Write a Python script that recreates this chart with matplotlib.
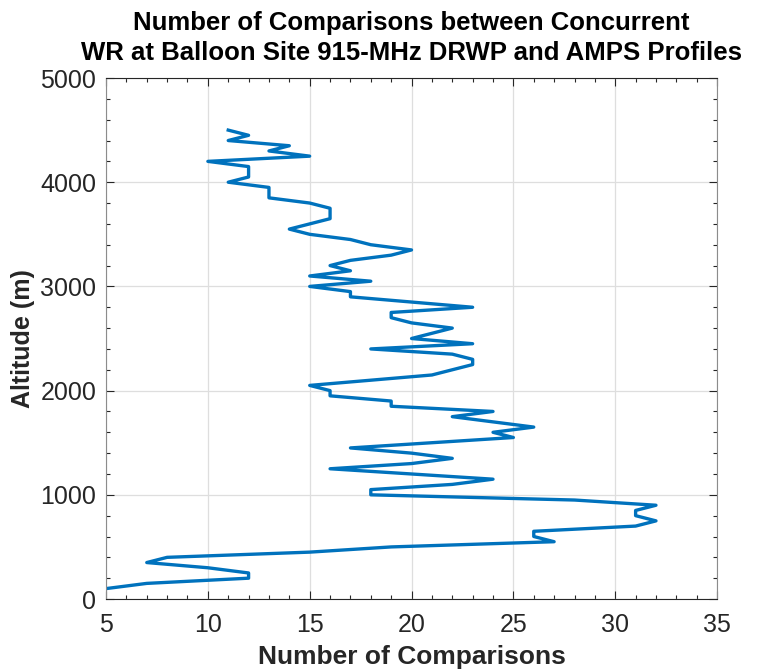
import numpy as np
import matplotlib.pyplot as plt
from matplotlib.ticker import MultipleLocator

# Altitude gates (m) and number of comparisons
altitude = [4500, 4450, 4400, 4350, 4300, 4250, 4200, 4150, 4100, 4050,
            4000, 3950, 3900, 3850, 3800, 3750, 3700, 3650, 3600, 3550,
            3500, 3450, 3400, 3350, 3300, 3250, 3200, 3150, 3100, 3050,
            3000, 2950, 2900, 2850, 2800, 2750, 2700, 2650, 2600, 2550,
            2500, 2450, 2400, 2350, 2300, 2250, 2200, 2150, 2100, 2050,
            2000, 1950, 1900, 1850, 1800, 1750, 1700, 1650, 1600, 1550,
            1500, 1450, 1400, 1350, 1300, 1250, 1200, 1150, 1100, 1050,
            1000, 950, 900, 850, 800, 750, 700, 650, 600, 550,
            500, 450, 400, 350, 300, 250, 200, 150, 100]
n_comp = [11, 12, 11, 14, 13, 15, 10, 12, 12, 12,
          11, 13, 13, 13, 15, 16, 16, 16, 15, 14,
          15, 17, 18, 20, 19, 17, 16, 17, 15, 18,
          15, 17, 17, 20, 23, 19, 19, 20, 22, 21,
          20, 23, 18, 22, 23, 23, 22, 21, 18, 15,
          16, 16, 19, 19, 24, 22, 24, 26, 24, 25,
          21, 17, 20, 22, 20, 16, 20, 24, 22, 18,
          18, 28, 32, 31, 31, 32, 31, 26, 26, 27,
          19, 15, 8, 7, 10, 12, 12, 7, 5]

title_txt = 'Number of Comparisons between Concurrent\nWR at Balloon Site 915-MHz DRWP and AMPS Profiles'

plt.rcParams['font.family'] = ['Liberation Sans', 'DejaVu Sans']

fig = plt.figure(figsize=(7.61, 6.69), dpi=100)
ax = fig.add_axes([0.1393, 0.1046, 0.8030, 0.7788])

ax.plot(n_comp, altitude, color='#0072BD', linewidth=2.4)

ax.set_xlim(5, 35)
ax.set_ylim(0, 5000)
ax.xaxis.set_major_locator(MultipleLocator(5))
ax.xaxis.set_minor_locator(MultipleLocator(1))
ax.yaxis.set_major_locator(MultipleLocator(1000))
ax.yaxis.set_minor_locator(MultipleLocator(200))

ax.grid(True, which='major', color='#dedede', linewidth=0.9)
ax.set_axisbelow(True)
ax.tick_params(which='both', direction='in', top=True, right=True,
               color='#262626', labelcolor='#262626', labelsize=18, width=0.8)
ax.tick_params(which='major', length=6, pad=7)
ax.tick_params(axis='x', which='major', pad=10)
ax.tick_params(which='minor', length=3)
for side in ['top', 'bottom']:
    ax.spines[side].set_color('#262626')
for side in ['left', 'right']:
    ax.spines[side].set_color('#8c8c8c')

ax.set_xlabel('Number of Comparisons', fontsize=19, fontweight='bold', color='#262626', labelpad=6)
ax.set_ylabel('Altitude (m)', fontsize=18, fontweight='bold', color='#262626', labelpad=4)
ax.set_title(title_txt, fontsize=18.5, fontweight='bold', color='black', pad=13, linespacing=1.3)

plt.savefig('out.png', dpi=100)
